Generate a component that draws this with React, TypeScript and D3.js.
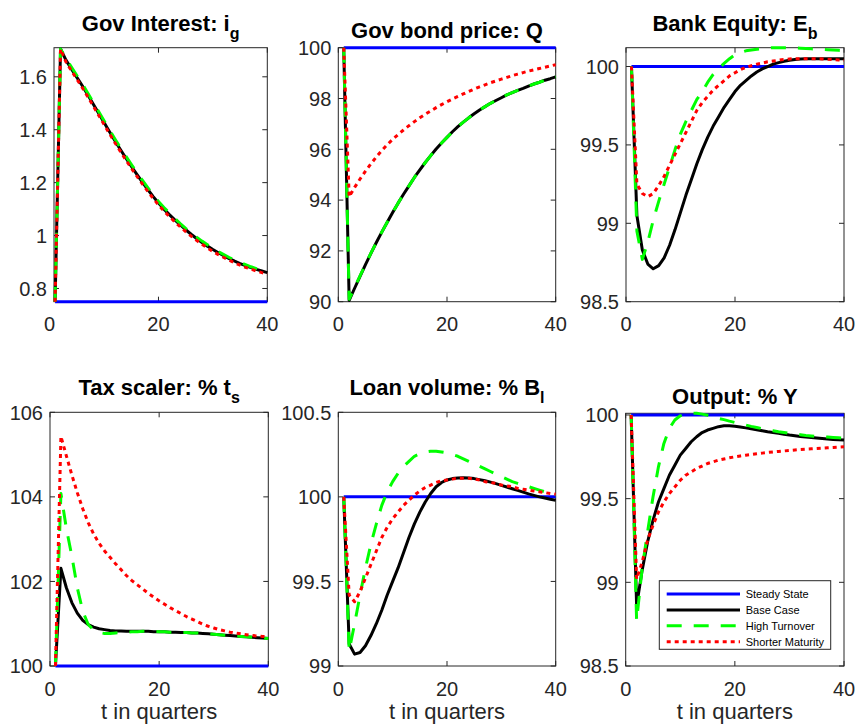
import React from "react";
import * as d3 from "d3";

// Quarters after the shock
const quarters = [
  1, 2, 3, 4, 5, 6, 7, 8, 9, 10, 11, 12, 13, 14, 15, 16, 17, 18, 19, 20,
  21, 22, 23, 24, 25, 26, 27, 28, 29, 30, 31, 32, 33, 34, 35, 36, 37, 38, 39, 40,
];

const seriesNames = ["Steady State", "Base Case", "High Turnover", "Shorter Maturity"];
const xTicks = [0, 20, 40];

// Gov interest i_g
const interestSteady = 0.75;
const interestBase = [
  0.75, 1.705, 1.663, 1.63, 1.598, 1.566, 1.532, 1.497, 1.462, 1.427, 1.392, 1.358, 1.325, 1.293,
  1.262, 1.232, 1.203, 1.175, 1.148, 1.123, 1.1, 1.079, 1.059, 1.04, 1.022, 1.005, 0.989, 0.974,
  0.96, 0.947, 0.935, 0.924, 0.913, 0.903, 0.894, 0.886, 0.879, 0.872, 0.866, 0.86,
];
const interestHigh = [
  0.75, 1.705, 1.669, 1.637, 1.605, 1.573, 1.539, 1.504, 1.469, 1.434, 1.399, 1.365, 1.332, 1.3,
  1.269, 1.239, 1.21, 1.182, 1.155, 1.129, 1.106, 1.085, 1.065, 1.045, 1.027, 1.01, 0.994, 0.979,
  0.965, 0.951, 0.939, 0.928, 0.917, 0.907, 0.898, 0.89, 0.882, 0.875, 0.869, 0.863,
];
const interestShort = [
  0.75, 1.705, 1.656, 1.623, 1.591, 1.559, 1.525, 1.49, 1.455, 1.42, 1.385, 1.351, 1.318, 1.286,
  1.255, 1.225, 1.196, 1.168, 1.141, 1.116, 1.093, 1.072, 1.052, 1.033, 1.015, 0.998, 0.982, 0.967,
  0.953, 0.94, 0.928, 0.917, 0.907, 0.897, 0.888, 0.88, 0.873, 0.866, 0.86, 0.855,
];

// Gov bond price Q
const bondSteady = 100;
const bondBase = [
  100, 90.05, 90.53, 91.0, 91.46, 91.9, 92.33, 92.74, 93.13, 93.51, 93.88, 94.23, 94.56, 94.89,
  95.19, 95.48, 95.75, 96.01, 96.25, 96.47, 96.69, 96.89, 97.07, 97.24, 97.4, 97.55, 97.68, 97.81,
  97.92, 98.03, 98.14, 98.23, 98.32, 98.4, 98.49, 98.57, 98.64, 98.72, 98.78, 98.85,
];
const bondHigh = [
  100, 90.1, 90.56, 91.02, 91.47, 91.91, 92.33, 92.74, 93.13, 93.51, 93.88, 94.23, 94.56, 94.89,
  95.19, 95.48, 95.75, 96.01, 96.25, 96.47, 96.69, 96.89, 97.07, 97.24, 97.4, 97.55, 97.68, 97.81,
  97.92, 98.03, 98.14, 98.23, 98.32, 98.4, 98.49, 98.57, 98.64, 98.72, 98.78, 98.85,
];
const bondShort = [
  100, 94.13, 94.5, 94.83, 95.14, 95.43, 95.7, 95.95, 96.18, 96.39, 96.58, 96.76, 96.93, 97.09,
  97.24, 97.38, 97.51, 97.64, 97.76, 97.87, 97.98, 98.08, 98.18, 98.28, 98.37, 98.46, 98.54, 98.62,
  98.69, 98.76, 98.83, 98.9, 98.96, 99.02, 99.08, 99.13, 99.18, 99.23, 99.28, 99.33,
];

// Bank equity E_b
const equitySteady = 100;
const equityBase = [
  100, 99.05, 98.83, 98.74, 98.71, 98.73, 98.78, 98.86, 98.96, 99.07, 99.18, 99.28, 99.38, 99.47,
  99.55, 99.62, 99.68, 99.74, 99.79, 99.84, 99.88, 99.91, 99.94, 99.965, 99.985, 100.0, 100.015,
  100.025, 100.033, 100.04, 100.045, 100.048, 100.05, 100.05, 100.05, 100.05, 100.05, 100.05, 100.05,
  100.05,
];
const equityHigh = [
  100, 98.95, 98.77, 98.88, 99.02, 99.14, 99.25, 99.36, 99.47, 99.57, 99.65, 99.72, 99.79, 99.84,
  99.9, 99.95, 99.99, 100.02, 100.05, 100.075, 100.09, 100.1, 100.105, 100.11, 100.115, 100.118,
  100.12, 100.12, 100.12, 100.12, 100.119, 100.117, 100.115, 100.113, 100.111, 100.109, 100.107,
  100.105, 100.103, 100.1,
];
const equityShort = [
  100, 99.25, 99.19, 99.17, 99.19, 99.24, 99.3, 99.37, 99.44, 99.51, 99.58, 99.65, 99.72, 99.77,
  99.81, 99.85, 99.88, 99.91, 99.94, 99.96, 99.98, 99.995, 100.005, 100.015, 100.022, 100.03,
  100.035, 100.04, 100.045, 100.048, 100.05, 100.05, 100.05, 100.05, 100.05, 100.048, 100.046,
  100.044, 100.042, 100.04,
];

// Tax scaler t_s
const taxSteady = 100;
const taxBase = [
  100, 102.31, 101.85, 101.5, 101.25, 101.08, 100.98, 100.92, 100.88, 100.86, 100.84, 100.83,
  100.83, 100.82, 100.82, 100.82, 100.82, 100.82, 100.81, 100.81, 100.81, 100.8, 100.8, 100.79,
  100.79, 100.78, 100.78, 100.77, 100.76, 100.75, 100.74, 100.73, 100.72, 100.71, 100.7, 100.69,
  100.68, 100.67, 100.66, 100.65,
];
const taxHigh = [
  100, 104.08, 103.25, 102.6, 101.85, 101.3, 100.98, 100.85, 100.79, 100.77, 100.77, 100.78,
  100.79, 100.8, 100.81, 100.81, 100.82, 100.82, 100.82, 100.81, 100.81, 100.8, 100.8, 100.79,
  100.79, 100.78, 100.78, 100.77, 100.76, 100.75, 100.74, 100.73, 100.72, 100.71, 100.7, 100.69,
  100.68, 100.67, 100.66, 100.65,
];
const taxShort = [
  100, 105.43, 104.97, 104.52, 104.1, 103.72, 103.39, 103.12, 102.9, 102.72, 102.57, 102.42,
  102.28, 102.14, 102.02, 101.92, 101.82, 101.72, 101.63, 101.54, 101.46, 101.38, 101.31, 101.24,
  101.17, 101.11, 101.05, 100.99, 100.94, 100.9, 100.86, 100.83, 100.8, 100.78, 100.76, 100.74,
  100.72, 100.71, 100.7, 100.69,
];

// Loan volume B_l
const loanSteady = 100;
const loanBase = [
  100, 99.13, 99.07, 99.08, 99.12, 99.18, 99.25, 99.33, 99.42, 99.5, 99.58, 99.67, 99.76, 99.84,
  99.91, 99.97, 100.02, 100.06, 100.085, 100.1, 100.108, 100.112, 100.113, 100.112, 100.108,
  100.102, 100.095, 100.087, 100.078, 100.068, 100.058, 100.048, 100.038, 100.028, 100.018,
  100.009, 100.0, 99.993, 99.986, 99.98,
];
const loanHigh = [
  100, 99.09, 99.25, 99.42, 99.58, 99.72, 99.84, 99.95, 100.03, 100.09, 100.14, 100.18, 100.21,
  100.24, 100.255, 100.265, 100.27, 100.27, 100.265, 100.26, 100.25, 100.24, 100.225, 100.21,
  100.195, 100.18, 100.165, 100.15, 100.135, 100.12, 100.105, 100.09, 100.08, 100.07, 100.06,
  100.05, 100.04, 100.03, 100.02, 100.01,
];
const loanShort = [
  100, 99.42, 99.38, 99.44, 99.52, 99.6, 99.68, 99.76, 99.82, 99.87, 99.91, 99.95, 99.98, 100.01,
  100.035, 100.055, 100.07, 100.085, 100.095, 100.1, 100.105, 100.11, 100.11, 100.11, 100.105,
  100.1, 100.09, 100.085, 100.08, 100.07, 100.065, 100.06, 100.05, 100.045, 100.04, 100.035,
  100.03, 100.025, 100.02, 100.015,
];

// Output Y
const outputSteady = 100;
const outputBase = [
  100, 98.86, 99.07, 99.24, 99.37, 99.48, 99.56, 99.64, 99.7, 99.76, 99.8, 99.84, 99.87, 99.895,
  99.91, 99.92, 99.93, 99.935, 99.935, 99.932, 99.928, 99.923, 99.918, 99.912, 99.906, 99.9,
  99.895, 99.89, 99.885, 99.88, 99.876, 99.872, 99.868, 99.865, 99.862, 99.859, 99.856, 99.854,
  99.852, 99.85,
];
const outputHigh = [
  100, 98.77, 99.08, 99.3, 99.51, 99.69, 99.83, 99.92, 99.97, 99.995, 100.005, 100.01, 100.01,
  100.005, 99.998, 99.99, 99.98, 99.972, 99.963, 99.955, 99.947, 99.94, 99.932, 99.925, 99.918,
  99.912, 99.906, 99.9, 99.895, 99.89, 99.886, 99.882, 99.878, 99.875, 99.872, 99.87, 99.868,
  99.866, 99.864, 99.862,
];
const outputShort = [
  100, 99.02, 99.12, 99.25, 99.34, 99.42, 99.48, 99.53, 99.57, 99.61, 99.64, 99.66, 99.68, 99.695,
  99.71, 99.72, 99.73, 99.737, 99.744, 99.75, 99.755, 99.76, 99.764, 99.768, 99.772, 99.776,
  99.779, 99.782, 99.785, 99.788, 99.791, 99.794, 99.796, 99.798, 99.8, 99.802, 99.804, 99.806,
  99.808, 99.81,
];

const FONT = "'Liberation Sans', Arial, Helvetica, sans-serif";
const AXIS = "#262626";

const lineStyles = [
  { color: "#0000ff", dash: undefined as string | undefined },
  { color: "#000000", dash: undefined as string | undefined },
  { color: "#00ff00", dash: "15 12" },
  { color: "#ff0000", dash: "4 4" },
];

type PanelSpec = {
  title: string;
  sub?: string;
  box: [number, number, number, number];
  xDomain: [number, number];
  yDomain: [number, number];
  yTicks: number[];
  steady: number;
  series: number[][];
  xLabel?: boolean;
  legend?: boolean;
};

const panels: PanelSpec[] = [
  {
    title: "Gov Interest: i", sub: "g",
    box: [54, 47.7, 267.3, 301.7], xDomain: [0.8, 40], yDomain: [0.75, 1.71],
    yTicks: [0.8, 1, 1.2, 1.4, 1.6], steady: interestSteady,
    series: [interestBase, interestHigh, interestShort],
  },
  {
    title: "Gov bond price: Q",
    box: [338.3, 47.7, 555.7, 301.7], xDomain: [0, 40], yDomain: [90, 100],
    yTicks: [90, 92, 94, 96, 98, 100], steady: bondSteady,
    series: [bondBase, bondHigh, bondShort],
  },
  {
    title: "Bank Equity: E", sub: "b",
    box: [626, 47.7, 844, 301.7], xDomain: [0, 40], yDomain: [98.5, 100.12],
    yTicks: [98.5, 99, 99.5, 100], steady: equitySteady,
    series: [equityBase, equityHigh, equityShort],
  },
  {
    title: "Tax scaler: % t", sub: "s",
    box: [50, 412.3, 268.3, 666], xDomain: [0, 40], yDomain: [100, 106],
    yTicks: [100, 102, 104, 106], steady: taxSteady,
    series: [taxBase, taxHigh, taxShort], xLabel: true,
  },
  {
    title: "Loan volume: % B", sub: "l",
    box: [338.3, 412.3, 555.7, 666], xDomain: [0, 40], yDomain: [99, 100.5],
    yTicks: [99, 99.5, 100, 100.5], steady: loanSteady,
    series: [loanBase, loanHigh, loanShort], xLabel: true,
  },
  {
    title: "Output: % Y",
    box: [625.7, 413.3, 844, 666], xDomain: [0, 40], yDomain: [98.5, 100.01],
    yTicks: [98.5, 99, 99.5, 100], steady: outputSteady,
    series: [outputBase, outputHigh, outputShort], xLabel: true, legend: true,
  },
];

const TICK = 5;

function Panel({ p }: { p: PanelSpec }) {
  const [l, t, r, b] = p.box;
  const x = d3.scaleLinear().domain(p.xDomain).range([l, r]);
  const y = d3.scaleLinear().domain(p.yDomain).range([b, t]);
  const line = d3
    .line<number>()
    .x((_, i) => x(quarters[i]))
    .y((v) => y(v));
  const steadyValues = quarters.map(() => p.steady);
  const all = [steadyValues, ...p.series];
  const cx = (l + r) / 2;
  const fmt = (v: number) => String(v);

  return (
    <g>
      {/* frame and ticks */}
      <rect x={l} y={t} width={r - l} height={b - t} fill="white" stroke={AXIS} strokeWidth={1} />
      {xTicks.map((v) => {
        const xv = x(v);
        const inside = v >= p.xDomain[0] && v <= p.xDomain[1];
        return (
          <g key={"x" + v}>
            {inside && (
              <>
                <line x1={xv} x2={xv} y1={b} y2={b - TICK} stroke={AXIS} strokeWidth={1} />
                <line x1={xv} x2={xv} y1={t} y2={t + TICK} stroke={AXIS} strokeWidth={1} />
              </>
            )}
            <text x={xv} y={b + 29.5} textAnchor="middle" fontSize={20} fill={AXIS} fontFamily={FONT}>
              {v}
            </text>
          </g>
        );
      })}
      {p.yTicks.map((v) => {
        const yv = y(v);
        return (
          <g key={"y" + v}>
            <line x1={l} x2={l + TICK} y1={yv} y2={yv} stroke={AXIS} strokeWidth={1} />
            <line x1={r} x2={r - TICK} y1={yv} y2={yv} stroke={AXIS} strokeWidth={1} />
            <text x={l - 7} y={yv + 7.2} textAnchor="end" fontSize={20} fill={AXIS} fontFamily={FONT}>
              {fmt(v)}
            </text>
          </g>
        );
      })}
      {/* response paths */}
      {all.map((vals, k) => (
        <path
          key={k}
          d={line(vals) || ""}
          fill="none"
          stroke={lineStyles[k].color}
          strokeWidth={3}
          strokeDasharray={lineStyles[k].dash}
          strokeLinejoin="round"
        />
      ))}
      {/* title */}
      <text
        x={cx}
        y={p.sub ? t - 17 : t - 9.5}
        textAnchor="middle"
        fontSize={22}
        fontWeight="bold"
        fill="#000"
        fontFamily={FONT}
      >
        <tspan>{p.title}</tspan>
        {p.sub && (
          <tspan dy={8} fontSize={16}>
            {p.sub}
          </tspan>
        )}
      </text>
      {p.xLabel && (
        <text x={cx} y={b + 53} textAnchor="middle" fontSize={22} fill={AXIS} fontFamily={FONT}>
          t in quarters
        </text>
      )}
      {p.legend && <Legend />}
    </g>
  );
}

function Legend() {
  const lx = 659.3;
  const ly = 580.7;
  const w = 171.4;
  const h = 68.6;
  const rowY = d3.scaleLinear().domain([0, 3]).range([594, 641.7]);
  return (
    <g>
      <rect x={lx} y={ly} width={w} height={h} fill="white" stroke={AXIS} strokeWidth={1} />
      {seriesNames.map((name, i) => (
        <g key={name}>
          <line
            x1={666.7}
            x2={740}
            y1={rowY(i)}
            y2={rowY(i)}
            stroke={lineStyles[i].color}
            strokeWidth={3}
            strokeDasharray={lineStyles[i].dash}
          />
          <text x={745.7} y={rowY(i) + 4} fontSize={11} fill="#000" fontFamily={FONT}>
            {name}
          </text>
        </g>
      ))}
    </g>
  );
}

export default function App() {
  return (
    <svg
      width={855}
      height={727}
      viewBox="0 0 855 727"
      style={{ position: "absolute", left: 0, top: 0, background: "white" }}
    >
      <rect x={0} y={0} width={855} height={727} fill="white" />
      {panels.map((p, i) => (
        <Panel key={i} p={p} />
      ))}
    </svg>
  );
}
